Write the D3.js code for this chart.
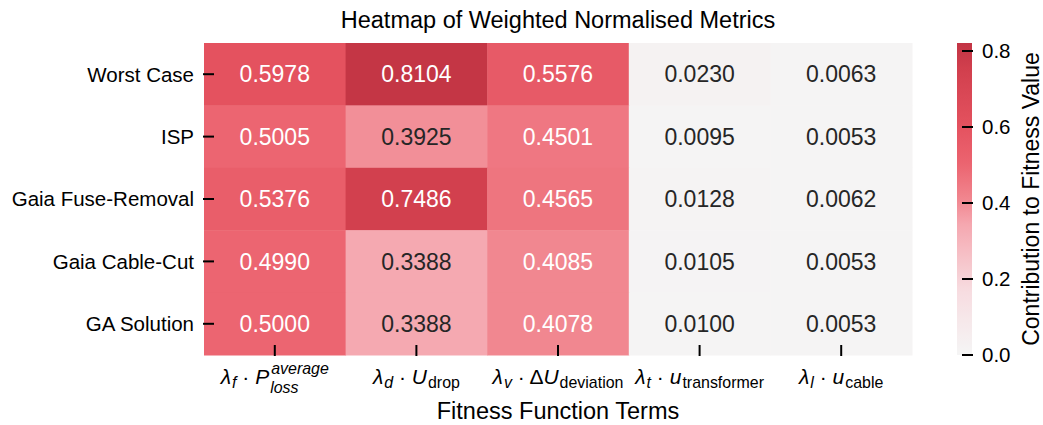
<!DOCTYPE html>
<html>
<head>
<meta charset="utf-8">
<script src="https://cdn.jsdelivr.net/npm/d3@7"></script>
<style>
  html, body { margin: 0; padding: 0; background: #ffffff; }
  svg text { font-family: "Liberation Sans", Arial, Helvetica, sans-serif; fill: #000; }
</style>
</head>
<body>
<svg id="chart" width="1043" height="425"></svg>
<script>
// Scenarios (rows)
const scenarios = ["Worst Case", "ISP", "Gaia Fuse-Removal", "Gaia Cable-Cut", "GA Solution"];

// Fitness function terms (columns), as math pieces: text / italic / sub / sup
const termLabels = [
  [{t: "λ", i: true}, {sub: "f", si: true}, {t: " · "}, {t: "P", i: true}, {sub: "loss", sup: "average", si: true}],
  [{t: "λ", i: true}, {sub: "d", si: true}, {t: " · "}, {t: "U", i: true}, {sub: "drop"}],
  [{t: "λ", i: true}, {sub: "v", si: true}, {t: " · Δ"}, {t: "U", i: true}, {sub: "deviation"}],
  [{t: "λ", i: true}, {sub: "t", si: true}, {t: " · "}, {t: "u", i: true}, {sub: "transformer"}],
  [{t: "λ", i: true}, {sub: "l", si: true}, {t: " · "}, {t: "u", i: true}, {sub: "cable"}]
];

// Weighted normalised contributions, one array per scenario
const worstCase     = [0.5978, 0.8104, 0.5576, 0.0230, 0.0063];
const ispValues     = [0.5005, 0.3925, 0.4501, 0.0095, 0.0053];
const fuseRemoval   = [0.5376, 0.7486, 0.4565, 0.0128, 0.0062];
const cableCut      = [0.4990, 0.3388, 0.4085, 0.0105, 0.0053];
const gaSolution    = [0.5000, 0.3388, 0.4078, 0.0100, 0.0053];
const seriesValues  = [worstCase, ispValues, fuseRemoval, cableCut, gaSolution];

// Colour bar
const colorbarTicks = [0.0, 0.2, 0.4, 0.6, 0.8];
const colorMax = 0.821;

const svg = d3.select("#chart");
const margin = {left: 204, right: 912, top: 43, bottom: 355};

const x = d3.scaleBand().domain(d3.range(termLabels.length)).range([margin.left, margin.right]);
const y = d3.scaleBand().domain(scenarios).range([margin.top, margin.bottom]);

const color = d3.scaleLinear()
  .domain([0, 0.17, 0.34, 0.41, 0.5, 0.6, 0.75, colorMax])
  .range(["#f5f5f5", "#f7dce0", "#f5a9b1", "#f1868f", "#ec6571", "#e4525f", "#d2404e", "#c23444"])
  .interpolate(d3.interpolateRgb)
  .clamp(true);

// Cells
const cells = [];
seriesValues.forEach((vals, r) => vals.forEach((v, c) => cells.push({r, c, v})));

svg.append("g").selectAll("rect").data(cells).join("rect")
  .attr("x", d => x(d.c))
  .attr("y", d => y(scenarios[d.r]))
  .attr("width", x.bandwidth() + 0.5)
  .attr("height", y.bandwidth() + 0.5)
  .attr("fill", d => color(d.v));

svg.append("g").selectAll("text").data(cells).join("text")
  .attr("x", d => x(d.c) + x.bandwidth() / 2)
  .attr("y", d => y(scenarios[d.r]) + y.bandwidth() / 2)
  .attr("dy", "0.36em")
  .attr("text-anchor", "middle")
  .style("font-size", "23px")
  .style("fill", d => d.v > 0.4 ? "#ffffff" : "#262626")
  .text(d => d.v.toFixed(4));

// Y axis: labels and ticks drawn into the grid
const tickLen = 11;
const yAxis = svg.append("g");
scenarios.forEach(s => {
  const cy = y(s) + y.bandwidth() / 2;
  yAxis.append("line")
    .attr("x1", margin.left - 1).attr("x2", margin.left - 1 + tickLen)
    .attr("y1", cy).attr("y2", cy)
    .attr("stroke", "#000").attr("stroke-width", 2);
  yAxis.append("text")
    .attr("x", margin.left - 10).attr("y", cy).attr("dy", "0.36em")
    .attr("text-anchor", "end")
    .style("font-size", "20.5px")
    .text(s);
});

// X axis ticks
const xAxis = svg.append("g");
termLabels.forEach((pieces, c) => {
  const cx = x(c) + x.bandwidth() / 2;
  xAxis.append("line")
    .attr("x1", cx).attr("x2", cx)
    .attr("y1", margin.bottom + 1).attr("y2", margin.bottom + 1 - tickLen)
    .attr("stroke", "#000").attr("stroke-width", 2);
  drawMath(xAxis, pieces, cx, 384, 21);
});

// Lays out a math label piece by piece and centres it on cx
function drawMath(parent, pieces, cx, baseline, fs) {
  const g = parent.append("g");
  const sfs = fs * 0.76;
  let cursor = 0;
  pieces.forEach(p => {
    if (p.t !== undefined) {
      const t = g.append("text")
        .attr("x", cursor).attr("y", 0)
        .style("font-size", fs + "px")
        .style("font-style", p.i ? "italic" : "normal")
        .attr("xml:space", "preserve")
        .text(p.t);
      cursor += t.node().getComputedTextLength() + (p.i ? 1 : 0);
    } else {
      let w = 0;
      const both = p.sub !== undefined && p.sup !== undefined;
      if (p.sub !== undefined) {
        const t = g.append("text")
          .attr("x", cursor).attr("y", both ? fs * 0.42 : fs * 0.2)
          .style("font-size", sfs + "px")
          .style("font-style", p.si ? "italic" : "normal")
          .text(p.sub);
        w = Math.max(w, t.node().getComputedTextLength());
      }
      if (p.sup !== undefined) {
        const t = g.append("text")
          .attr("x", cursor + 1).attr("y", -fs * 0.5)
          .style("font-size", sfs + "px")
          .style("font-style", "italic")
          .text(p.sup);
        w = Math.max(w, t.node().getComputedTextLength() + 1);
      }
      cursor += w;
    }
  });
  g.attr("transform", `translate(${cx - cursor / 2},${baseline})`);
}

// Axis titles
svg.append("text")
  .attr("x", (margin.left + margin.right) / 2).attr("y", 28)
  .attr("text-anchor", "middle")
  .style("font-size", "23.5px")
  .text("Heatmap of Weighted Normalised Metrics");

svg.append("text")
  .attr("x", (margin.left + margin.right) / 2).attr("y", 419)
  .attr("text-anchor", "middle")
  .style("font-size", "23.5px")
  .text("Fitness Function Terms");

// Colour bar
const cbX = 957, cbW = 15;
const cbScale = d3.scaleLinear().domain([0, colorMax]).range([margin.bottom, margin.top]);
const defs = svg.append("defs");
const grad = defs.append("linearGradient").attr("id", "cbGrad")
  .attr("x1", "0").attr("y1", "1").attr("x2", "0").attr("y2", "0");
d3.range(0, 1.0001, 0.02).forEach(f => {
  grad.append("stop").attr("offset", f).attr("stop-color", color(f * colorMax));
});
svg.append("rect")
  .attr("x", cbX).attr("y", margin.top)
  .attr("width", cbW).attr("height", margin.bottom - margin.top)
  .attr("fill", "url(#cbGrad)");

const cbAxis = svg.append("g");
colorbarTicks.forEach(v => {
  const ty = cbScale(v);
  cbAxis.append("line")
    .attr("x1", cbX + 5).attr("x2", cbX + cbW + 1)
    .attr("y1", ty).attr("y2", ty)
    .attr("stroke", "#000").attr("stroke-width", 2);
  cbAxis.append("text")
    .attr("x", 982).attr("y", ty).attr("dy", "0.36em")
    .style("font-size", "20.5px")
    .text(v.toFixed(1));
});

svg.append("text")
  .attr("transform", `translate(1039,${(margin.top + margin.bottom) / 2}) rotate(-90)`)
  .attr("text-anchor", "middle")
  .style("font-size", "23px")
  .text("Contribution to Fitness Value");
</script>
</body>
</html>
